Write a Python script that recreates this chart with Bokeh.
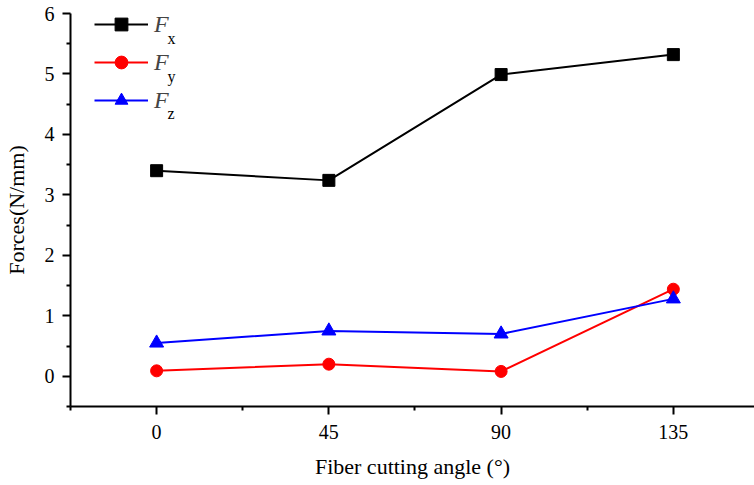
from bokeh.plotting import figure
from bokeh.models import FixedTicker, Range1d, Legend, LegendItem, Label
from bokeh.embed import file_html
from bokeh.resources import INLINE

angles = [0, 45, 90, 135]
fx = [3.40, 3.24, 4.99, 5.32]
fy = [0.09, 0.20, 0.08, 1.44]
fz = [0.55, 0.75, 0.70, 1.28]
x_ticks = [0, 45, 90, 135]
y_ticks = [0, 1, 2, 3, 4, 5, 6]
series_names = ["x", "y", "z"]

FONT = "Liberation Serif"

p = figure(width=754, height=485, output_backend="svg", toolbar_location=None,
           x_range=Range1d(-22.5, 156.2), y_range=Range1d(-0.5, 6.0),
           min_border_left=69, min_border_right=0, min_border_top=13, min_border_bottom=79)
p.outline_line_color = None
p.grid.visible = False

r1 = p.line(angles, fx, line_color="black", line_width=2)
m1 = p.scatter(angles, fx, marker="square", size=12, color="black")
r2 = p.line(angles, fy, line_color="red", line_width=2)
m2 = p.scatter(angles, fy, marker="circle", size=12, color="red")
r3 = p.line(angles, fz, line_color="blue", line_width=2)
m3 = p.scatter(angles, fz, marker="triangle", size=14, color="blue")

for ax in (p.xaxis[0], p.yaxis[0]):
    ax.axis_line_width = 2
    ax.major_tick_line_width = 2
    ax.minor_tick_line_width = 2
    ax.major_tick_out = 8
    ax.major_tick_in = 0
    ax.minor_tick_out = 4
    ax.minor_tick_in = 0
    ax.major_label_text_font = FONT
    ax.major_label_text_font_size = "20px"
    ax.major_label_text_color = "black"
    ax.axis_label_text_font = FONT
    ax.axis_label_text_font_size = "22px"
    ax.axis_label_text_font_style = "normal"
    ax.axis_label_text_color = "black"

p.xaxis.ticker = FixedTicker(ticks=x_ticks, minor_ticks=[-22.5, 22.5, 67.5, 112.5, 157.5])
p.yaxis.ticker = FixedTicker(ticks=y_ticks, minor_ticks=[-0.5, 0.5, 1.5, 2.5, 3.5, 4.5, 5.5])
p.xaxis.axis_label = "Fiber cutting angle (°)"
p.yaxis.axis_label = "Forces(N/mm)"
p.xaxis.major_label_standoff = 10
p.xaxis.axis_label_standoff = 12
p.yaxis.major_label_standoff = 8
p.yaxis.axis_label_standoff = 13

legend = Legend(items=[LegendItem(label="F", renderers=[r1, m1]),
                       LegendItem(label="F", renderers=[r2, m2]),
                       LegendItem(label="F", renderers=[r3, m3])],
                location=(24, 290), margin=0, padding=0,
                border_line_color=None, background_fill_alpha=0,
                glyph_width=54, glyph_height=32, label_height=32, label_width=40,
                spacing=6, label_standoff=6, label_text_font=FONT,
                label_text_font_style="italic", label_text_font_size="24px")
p.add_layout(legend)

sub_y = [5.58, 4.96, 4.34]
for i, s in enumerate(series_names):
    lbl = Label(x=2.87, y=sub_y[i], text=s, text_font=FONT, text_font_size="16px",
                text_color="black", text_baseline="alphabetic")
    p.add_layout(lbl)

open("out.html", "w").write(file_html(p, INLINE))
